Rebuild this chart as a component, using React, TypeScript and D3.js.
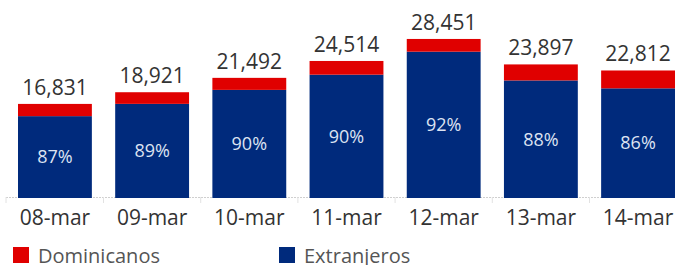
import React, { useRef, useEffect } from "react";
import * as d3 from "d3";

const days = ["08-mar", "09-mar", "10-mar", "11-mar", "12-mar", "13-mar", "14-mar"];
const totals = [16831, 18921, 21492, 24514, 28451, 23897, 22812];
const pctExtranjeros = [0.87, 0.89, 0.9, 0.9, 0.92, 0.88, 0.86];
const legendLabels = ["Dominicanos", "Extranjeros"];

const RED = "#e00000";
const BLUE = "#002a7c";
const FONT = "'Open Sans', sans-serif";

export default function App() {
  const svgRef = useRef<SVGSVGElement>(null);

  useEffect(() => {
    if (!svgRef.current) return;
    const svg = d3.select(svgRef.current);
    svg.selectAll("*").remove();

    const width = 675;
    const height = 265;
    const baseY = 198;

    const x = d3.scaleBand<string>().domain(days).range([18, 675]).paddingInner(0.24).paddingOuter(0);
    const y = d3.scaleLinear().domain([0, 30000]).range([baseY, baseY - 167.7]);

    svg.attr("width", width).attr("height", height);

    const rows = days.map((d, i) => {
      const ext = totals[i] * pctExtranjeros[i];
      return { day: d, total: totals[i], ext, pct: pctExtranjeros[i] };
    });

    // baseline + dividers
    const step = x.step();
    svg.append("line")
      .attr("x1", 6).attr("x2", width)
      .attr("y1", baseY - 0.5).attr("y2", baseY - 0.5)
      .attr("stroke", "#cfcfcf").attr("stroke-dasharray", "2,1");
    days.forEach((d, i) => {
      const tx = (x(d) || 0) - (step - x.bandwidth()) / 2;
      svg.append("line")
        .attr("x1", i === 0 ? 6 : tx).attr("x2", i === 0 ? 6 : tx)
        .attr("y1", baseY - 1).attr("y2", baseY + 5)
        .attr("stroke", "#e2e2e2");
    });

    // Extranjeros (blue)
    svg.selectAll(".ext").data(rows).enter().append("rect")
      .attr("x", (d) => x(d.day) || 0)
      .attr("width", x.bandwidth())
      .attr("y", (d) => y(d.ext))
      .attr("height", (d) => baseY - y(d.ext))
      .attr("fill", BLUE);

    // Dominicanos (red) stacked on top
    svg.selectAll(".dom").data(rows).enter().append("rect")
      .attr("x", (d) => x(d.day) || 0)
      .attr("width", x.bandwidth())
      .attr("y", (d) => y(d.total))
      .attr("height", (d) => y(d.ext) - y(d.total))
      .attr("fill", RED);

    // totals
    svg.selectAll(".tot").data(rows).enter().append("text")
      .attr("x", (d) => (x(d.day) || 0) + x.bandwidth() / 2)
      .attr("y", (d) => y(d.total) - 9)
      .attr("text-anchor", "middle")
      .attr("font-family", FONT)
      .attr("font-size", "21px")
      .attr("fill", "#333")
      .text((d) => d3.format(",")(d.total));

    // percentages
    svg.selectAll(".pct").data(rows).enter().append("text")
      .attr("x", (d) => (x(d.day) || 0) + x.bandwidth() / 2)
      .attr("y", (d) => (y(d.ext) + baseY) / 2)
      .attr("dy", "0.35em")
      .attr("text-anchor", "middle")
      .attr("font-family", FONT)
      .attr("font-size", "18px")
      .attr("fill", "#dde3f2")
      .text((d) => d3.format(".0%")(d.pct));

    // x labels
    svg.selectAll(".xl").data(rows).enter().append("text")
      .attr("x", (d) => (x(d.day) || 0) + x.bandwidth() / 2)
      .attr("y", 225)
      .attr("text-anchor", "middle")
      .attr("font-family", FONT)
      .attr("font-size", "21px")
      .attr("fill", "#333")
      .text((d) => d.day);

    // legend
    const legendX = [13, 279];
    const legendColors = [RED, BLUE];
    legendLabels.forEach((l, i) => {
      svg.append("rect")
        .attr("x", legendX[i]).attr("y", 247)
        .attr("width", 16).attr("height", 16)
        .attr("fill", legendColors[i]);
      svg.append("text")
        .attr("x", legendX[i] + 25).attr("y", 263)
        .attr("font-family", FONT)
        .attr("font-size", "20px")
        .attr("fill", "#555")
        .text(l);
    });
  }, []);

  return <svg ref={svgRef} style={{ position: "absolute", left: 0, top: 0 }} />;
}
